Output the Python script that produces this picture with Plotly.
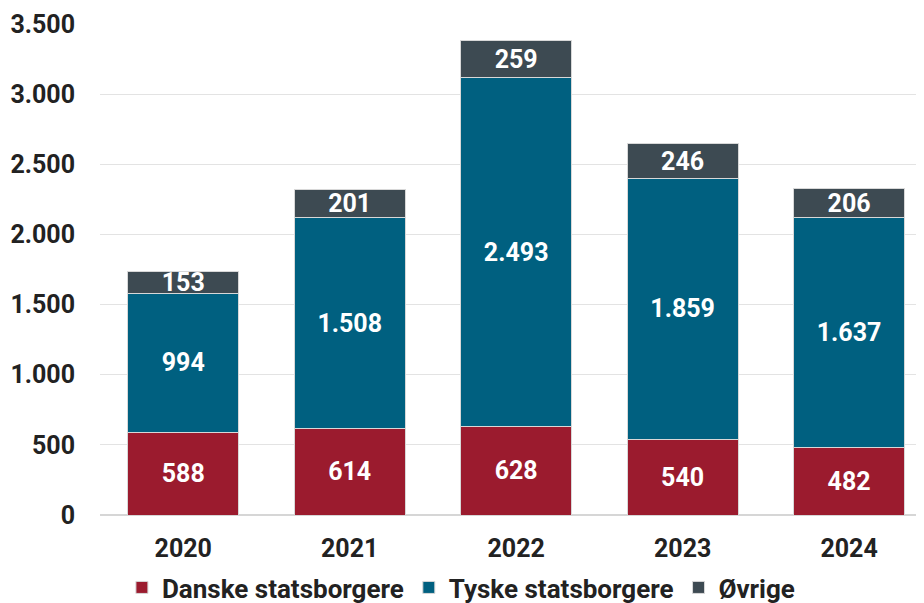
import plotly.graph_objects as go

years = ["2020", "2021", "2022", "2023", "2024"]
danske = [588, 614, 628, 540, 482]
tyske = [994, 1508, 2493, 1859, 1637]
oevrige = [153, 201, 259, 246, 206]

series = [
    ("Danske statsborgere", danske, "#9b1b2e"),
    ("Tyske statsborgere", tyske, "#006080"),
    ("Øvrige", oevrige, "#3d4a52"),
]

fig = go.Figure()
for name, vals, color in series:
    fig.add_trace(go.Bar(
        x=years, y=vals, name=name,
        marker=dict(color=color, line=dict(color="#d8d8d8", width=1)),
        texttemplate="%{y:,d}", textposition="inside",
        insidetextanchor="middle", textangle=0, constraintext="none",
        textfont=dict(family="Roboto", size=25, color="white", weight="bold"),
    ))

# page body adds an 8px margin, so the figure is sized to the visible area
fig.update_layout(
    barmode="stack",
    bargap=0.333,
    separators=",.",
    width=916, height=595,
    margin=dict(l=92, r=0, t=16, b=88, autoexpand=False),
    plot_bgcolor="white", paper_bgcolor="white",
    font=dict(family="Roboto", size=25, color="#222222", weight="bold"),
    showlegend=True,
    legend=dict(orientation="h", x=0.438, xanchor="center",
                yref="container", y=0.026, yanchor="middle",
                font=dict(size=26, weight="bold"), itemwidth=30, traceorder="normal"),
)
fig.update_xaxes(range=[-0.5, 4.45], showgrid=False, ticks="outside", ticklen=11,
                 tickcolor="white", automargin=False, tickfont=dict(size=25, weight="bold"))
fig.update_yaxes(range=[0, 3500], dtick=500, tickformat=",d", showgrid=True,
                 gridcolor="#e3e3e3", zeroline=True, zerolinecolor="#d6d6d6",
                 ticks="outside", ticklen=19, tickcolor="white", automargin=False,
                 tickfont=dict(size=25, weight="bold"))

fig.write_html("out.html")
